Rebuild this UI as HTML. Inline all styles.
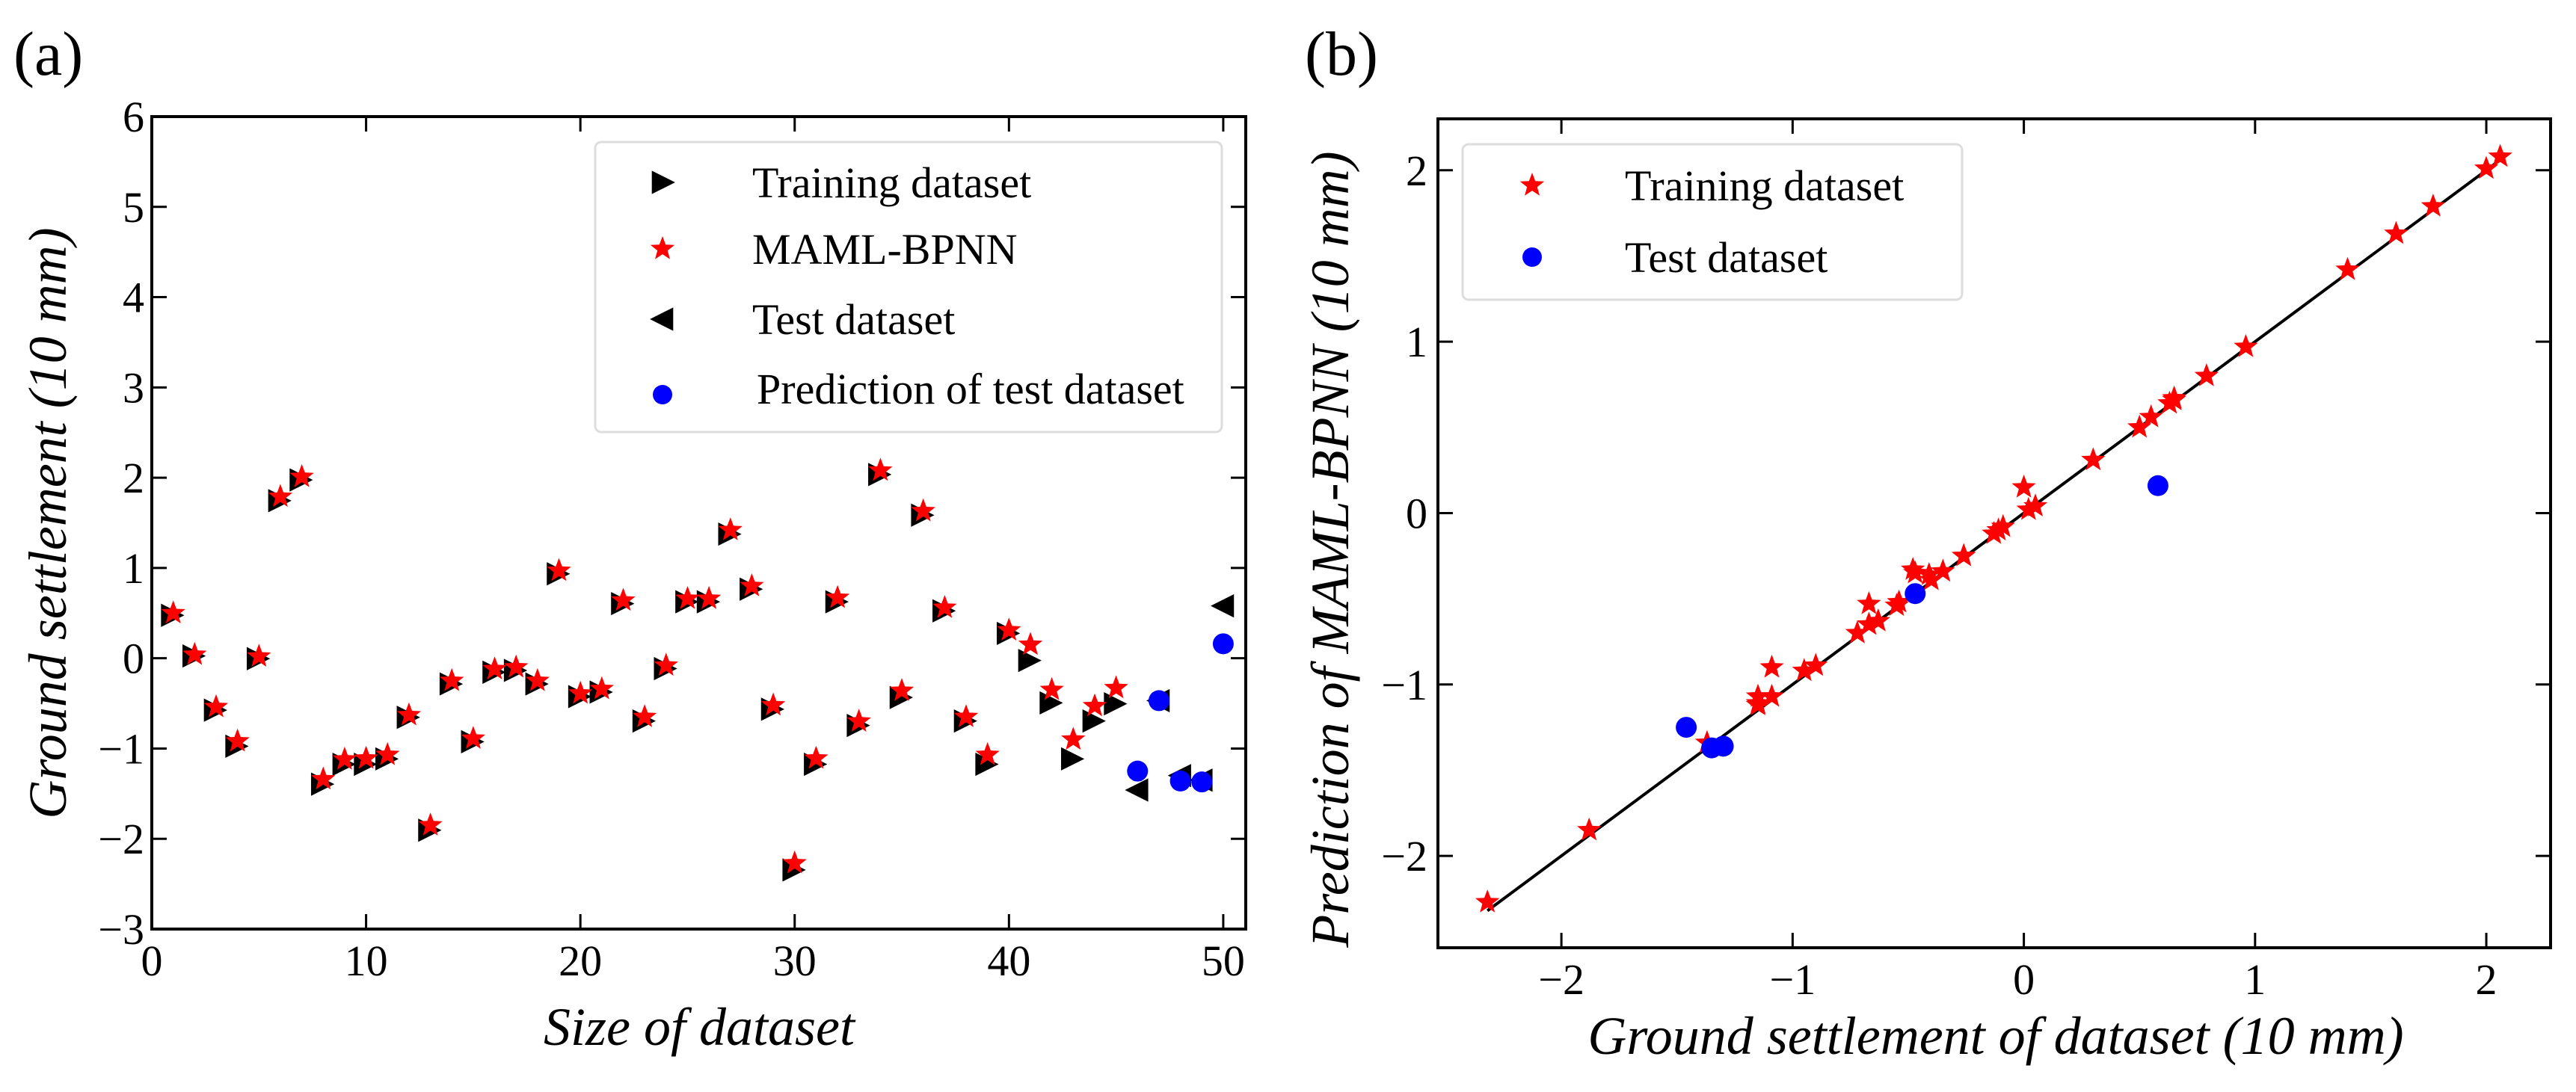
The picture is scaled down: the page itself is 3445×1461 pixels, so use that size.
<!DOCTYPE html>
<html><head><meta charset="utf-8"><style>
html,body{margin:0;padding:0;background:#fff;}
svg{display:block;}
svg text{font-family:"Liberation Serif","Times New Roman",serif;}
</style></head><body>
<svg id="fig" width="3445" height="1461" viewBox="0 0 3445 1461" xmlns="http://www.w3.org/2000/svg" font-family="Liberation Serif, serif"></svg>
<script>
// ---- data ----
const trainX = [1,2,3,4,5,6,7,8,9,10,11,12,13,14,15,16,17,18,19,20,21,22,23,24,25,26,27,28,29,30,31,32,33,34,35,36,37,38,39,40,41,42,43,44,45];
const trainY = [0.50,0.05,-0.55,-0.95,0.02,1.77,2.00,-1.37,-1.15,-1.15,-1.09,-0.63,-1.88,-0.26,-0.90,-0.13,-0.11,-0.26,0.96,-0.40,-0.35,0.63,-0.67,-0.09,0.65,0.65,1.40,0.79,-0.54,-2.32,-1.15,0.65,-0.72,2.06,-0.41,1.61,0.55,-0.67,-1.15,0.30,0.00,-0.47,-1.09,-0.67,-0.48];
const trainPred = [0.50,0.04,-0.54,-0.92,0.02,1.79,2.01,-1.34,-1.12,-1.11,-1.07,-0.63,-1.85,-0.25,-0.89,-0.12,-0.10,-0.25,0.97,-0.39,-0.34,0.64,-0.65,-0.08,0.66,0.66,1.42,0.80,-0.52,-2.27,-1.11,0.67,-0.70,2.08,-0.36,1.63,0.56,-0.65,-1.07,0.31,0.15,-0.35,-0.90,-0.53,-0.33];
const testX = [46,47,48,49,50];
const testY = [-1.46,-0.47,-1.30,-1.35,0.58];
const testPred = [-1.25,-0.47,-1.36,-1.37,0.16];
const aXTicks = [0,10,20,30,40,50];
const aYTicks = [-3,-2,-1,0,1,2,3,4,5,6];
const bTicks = [-2,-1,0,1,2];

const NS="http://www.w3.org/2000/svg";
const svg=document.getElementById('fig');
function mk(tag,attrs,parent,text){const e=document.createElementNS(NS,tag);for(const k in attrs)e.setAttribute(k,attrs[k]);if(tag==='text')e.setAttribute('font-family','Liberation Serif, serif');if(text!==undefined)e.textContent=text;(parent||svg).appendChild(e);return e;}
function fmt(v){return v<0?'\u2212'+Math.abs(v):String(v);}
function starPath(cx,cy,R){const r=R*0.42;let d='';for(let i=0;i<10;i++){const a=-Math.PI/2+i*Math.PI/5;const rr=i%2?r:R;d+=(i?'L':'M')+(cx+rr*Math.cos(a)).toFixed(1)+','+(cy+rr*Math.sin(a)).toFixed(1);}return d+'Z';}
function triR(cx,cy,s){return `M${cx-s*0.55},${cy-s*0.6}L${cx+s*0.65},${cy}L${cx-s*0.55},${cy+s*0.6}Z`;}
function triL(cx,cy,s){return `M${cx+s*0.55},${cy-s*0.6}L${cx-s*0.65},${cy}L${cx+s*0.55},${cy+s*0.6}Z`;}
const SR=17;

// ---------- Panel (a) ----------
const A={l:203,r:1666,t:156,b:1243,x0:0,x1:51.05,y0:-3,y1:6};
const ax=v=>A.l+(v-A.x0)/(A.x1-A.x0)*(A.r-A.l);
const ay=v=>A.b-(v-A.y0)/(A.y1-A.y0)*(A.b-A.t);
const ga=mk('g',{});  
const lblA=mk('text',{x:18,y:100,'font-size':84},ga,'(a)');
 
aXTicks.forEach(v=>{
  const x=ax(v);
  mk('line',{x1:x,y1:A.b,x2:x,y2:A.b-20,stroke:'#000','stroke-width':3},ga);
  mk('line',{x1:x,y1:A.t,x2:x,y2:A.t+20,stroke:'#000','stroke-width':3},ga);
  const t=mk('text',{x:x,y:A.b+62,'font-size':58,'text-anchor':'middle'},ga,fmt(v));
   
});
aYTicks.forEach(v=>{
  const y=ay(v);
  mk('line',{x1:A.l,y1:y,x2:A.l+20,y2:y,stroke:'#000','stroke-width':3},ga);
  mk('line',{x1:A.r,y1:y,x2:A.r-20,y2:y,stroke:'#000','stroke-width':3},ga);
  const t=mk('text',{x:A.l-10,y:y+20,'font-size':58,'text-anchor':'end'},ga,fmt(v));
   
});
const frA=mk('rect',{x:A.l,y:A.t,width:A.r-A.l,height:A.b-A.t,fill:'none',stroke:'#000','stroke-width':4},ga);
 
const xtA=mk('text',{x:935,y:1398,'font-size':72,'font-style':'italic','text-anchor':'middle'},ga,'Size of dataset');
 
const ytA=mk('text',{x:0,y:0,'font-size':72,'font-style':'italic','text-anchor':'middle',transform:'translate(88,700) rotate(-90)'},ga,'Ground settlement (10 mm)');
 
// legend a
const lgA=mk('g',{},ga);  
mk('rect',{x:796,y:190,width:838,height:388,rx:8,fill:'#fff',stroke:'#ddd','stroke-width':3},lgA);
const legA=[['tri-r','Training dataset',244],['star','MAML-BPNN',333],['tri-l','Test dataset',427],['dot','Prediction of test dataset',520]];
legA.forEach(([k,txt,y])=>{
  const g=mk('g',{},lgA);  
  if(k==='tri-r')mk('path',{d:triR(886,y,26),fill:'#000'},g);
  if(k==='tri-l')mk('path',{d:triL(886,y,26),fill:'#000'},g);
  if(k==='star')mk('path',{d:starPath(886,y,SR),fill:'#f00'},g);
  if(k==='dot')mk('circle',{cx:886,cy:y+8,r:13,fill:'#00f'},g);
  mk('text',{x:k==='dot'?1012:1006,y:y+20,'font-size':58},g,txt);
});
// marks a
trainX.forEach((xv,i)=>{
  const m=mk('path',{d:triR(ax(xv)-2,ay(trainY[i])+3,26),fill:'#000'},ga);
   
});
testX.forEach((xv,i)=>{
  const m=mk('path',{d:triL(ax(xv),ay(testY[i]),26),fill:'#000'},ga);
   
});
trainX.forEach((xv,i)=>{
  const m=mk('path',{d:starPath(ax(xv),ay(trainPred[i]),SR),fill:'#f00'},ga);
   
});
testX.forEach((xv,i)=>{
  const m=mk('circle',{cx:ax(xv),cy:ay(testPred[i]),r:14,fill:'#00f'},ga);
   
});

// ---------- Panel (b) ----------
const B={l:1923,r:3411,t:159,b:1268,x0:-2.534,x1:2.278,y0:-2.536,y1:2.30};
const bx=v=>B.l+(v-B.x0)/(B.x1-B.x0)*(B.r-B.l);
const by=v=>B.b-(v-B.y0)/(B.y1-B.y0)*(B.b-B.t);
const gb=mk('g',{});  
const lblB=mk('text',{x:1745,y:100,'font-size':84},gb,'(b)');
 
bTicks.forEach(v=>{
  const x=bx(v),y=by(v);
  mk('line',{x1:x,y1:B.b,x2:x,y2:B.b-20,stroke:'#000','stroke-width':3},gb);
  mk('line',{x1:x,y1:B.t,x2:x,y2:B.t+20,stroke:'#000','stroke-width':3},gb);
  mk('line',{x1:B.l,y1:y,x2:B.l+20,y2:y,stroke:'#000','stroke-width':3},gb);
  mk('line',{x1:B.r,y1:y,x2:B.r-20,y2:y,stroke:'#000','stroke-width':3},gb);
  const t1=mk('text',{x:x,y:B.b+62,'font-size':58,'text-anchor':'middle'},gb,fmt(v));
   
  const t2=mk('text',{x:B.l-14,y:y+20,'font-size':58,'text-anchor':'end'},gb,fmt(v));
   
});
const frB=mk('rect',{x:B.l,y:B.t,width:B.r-B.l,height:B.b-B.t,fill:'none',stroke:'#000','stroke-width':4},gb);
 
const xtB=mk('text',{x:2669,y:1410,'font-size':72,'font-style':'italic','text-anchor':'middle'},gb,'Ground settlement of dataset (10 mm)');
 
const ytB=mk('text',{x:0,y:0,'font-size':72,'font-style':'italic','text-anchor':'middle',transform:'translate(1803,735) rotate(-90)'},gb,'Prediction of MAML-BPNN (10 mm)');
 
// fit line
const allV=trainY.concat(testY);
const lo=Math.min(...allV), hi=Math.max(...trainPred);
const fl=mk('line',{x1:bx(lo),y1:by(lo),x2:bx(hi),y2:by(hi),stroke:'#000','stroke-width':4},gb);
 
trainY.forEach((v,i)=>{
  const m=mk('path',{d:starPath(bx(v),by(trainPred[i]),SR),fill:'#f00'},gb);
   
});
testY.forEach((v,i)=>{
  const m=mk('circle',{cx:bx(v),cy:by(testPred[i]),r:14,fill:'#00f'},gb);
   
});
// legend b
const lgB=mk('g',{},gb);  
mk('rect',{x:1956,y:193,width:668,height:208,rx:8,fill:'#fff',stroke:'#ddd','stroke-width':3},lgB);
const e1=mk('g',{},lgB);  
mk('path',{d:starPath(2049,248,SR),fill:'#f00'},e1);
mk('text',{x:2173,y:268,'font-size':58},e1,'Training dataset');
const e2=mk('g',{},lgB);  
mk('circle',{cx:2049,cy:344,r:13,fill:'#00f'},e2);
mk('text',{x:2173,y:364,'font-size':58},e2,'Test dataset');
</script>
</body></html>
